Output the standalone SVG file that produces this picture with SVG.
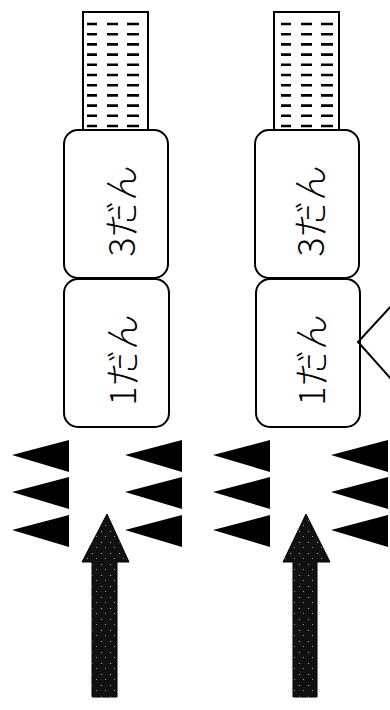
<svg xmlns="http://www.w3.org/2000/svg" width="390" height="710" viewBox="0 0 390 710">
<style>
.box{fill:#fff;stroke:#000;stroke-width:2}
.lbl{font-family:"Noto Sans CJK JP","Noto Sans",sans-serif;font-size:36px;font-weight:300;fill:#000;text-anchor:middle;dominant-baseline:central}
.tank{fill:#fff;stroke:#000;stroke-width:2}
.dash{fill:none;stroke:#000;stroke-width:2.6}
.tri{fill:#000}
.arrow{fill:url(#speck);stroke:#000;stroke-width:1}
.conn{fill:none;stroke:#000;stroke-width:2}
</style>
<defs>
<pattern id="speck" width="9" height="11" patternUnits="userSpaceOnUse">
<rect width="9" height="11" fill="#111"/>
<rect x="2" y="3" width="1" height="1" fill="#bbb"/>
<rect x="6" y="8" width="1" height="1" fill="#999"/>
</pattern>
<path id="row" d="M0 0h10M20 0h11M40 0h12" class="dash"/>
<polygon id="tr" points="0,15 57,0 57,32" class="tri"/>
</defs>

<g id="tank-left">
<rect x="83" y="12" width="65" height="118" class="tank"/>
<g transform="translate(87,0)">
<use href="#row" y="24"/><use href="#row" y="34.2"/><use href="#row" y="44.4"/><use href="#row" y="54.6"/><use href="#row" y="64.8"/><use href="#row" y="75"/><use href="#row" y="85.2"/><use href="#row" y="95.4"/><use href="#row" y="105.6"/><use href="#row" y="115.8"/><use href="#row" y="126"/>
</g>
</g>
<g id="tank-right">
<rect x="274" y="12" width="65" height="118" class="tank"/>
<g transform="translate(281,0)">
<use href="#row" y="24"/><use href="#row" y="34.2"/><use href="#row" y="44.4"/><use href="#row" y="54.6"/><use href="#row" y="64.8"/><use href="#row" y="75"/><use href="#row" y="85.2"/><use href="#row" y="95.4"/><use href="#row" y="105.6"/><use href="#row" y="115.8"/><use href="#row" y="126"/>
</g>
</g>

<g id="left-3dan">
<rect x="64" y="130" width="104" height="148" rx="14" class="box"/>
<text class="lbl" transform="translate(119,211) rotate(-90)">3だん</text>
</g>
<g id="left-1dan">
<rect x="64" y="279" width="105" height="148" rx="14" class="box"/>
<text class="lbl" transform="translate(120,360) rotate(-90)">1だん</text>
</g>
<g id="right-3dan">
<rect x="255" y="130" width="104" height="148" rx="14" class="box"/>
<text class="lbl" transform="translate(308,211) rotate(-90)">3だん</text>
</g>
<g id="right-1dan">
<rect x="256" y="279" width="104" height="148" rx="14" class="box"/>
<text class="lbl" transform="translate(309,360) rotate(-90)">1だん</text>
</g>

<g id="connectors">
<polyline points="392,305 358,342 392,380" class="conn"/>
</g>

<g id="triangles">
<use href="#tr" x="12" y="440"/><use href="#tr" x="12" y="477"/><use href="#tr" x="12" y="515"/>
<use href="#tr" x="125" y="440"/><use href="#tr" x="125" y="477"/><use href="#tr" x="125" y="515"/>
<use href="#tr" x="213" y="440"/><use href="#tr" x="213" y="477"/><use href="#tr" x="213" y="515"/>
<use href="#tr" x="331" y="440"/><use href="#tr" x="331" y="477"/><use href="#tr" x="331" y="515"/>
</g>

<g id="arrow-left">
<polygon points="107,514 129,562 117,562 117,697 92,697 92,562 82,562" class="arrow"/>
</g>
<g id="arrow-right">
<polygon points="306,514 330,562 317,562 317,697 293,697 293,562 283,562" class="arrow"/>
</g>
</svg>
